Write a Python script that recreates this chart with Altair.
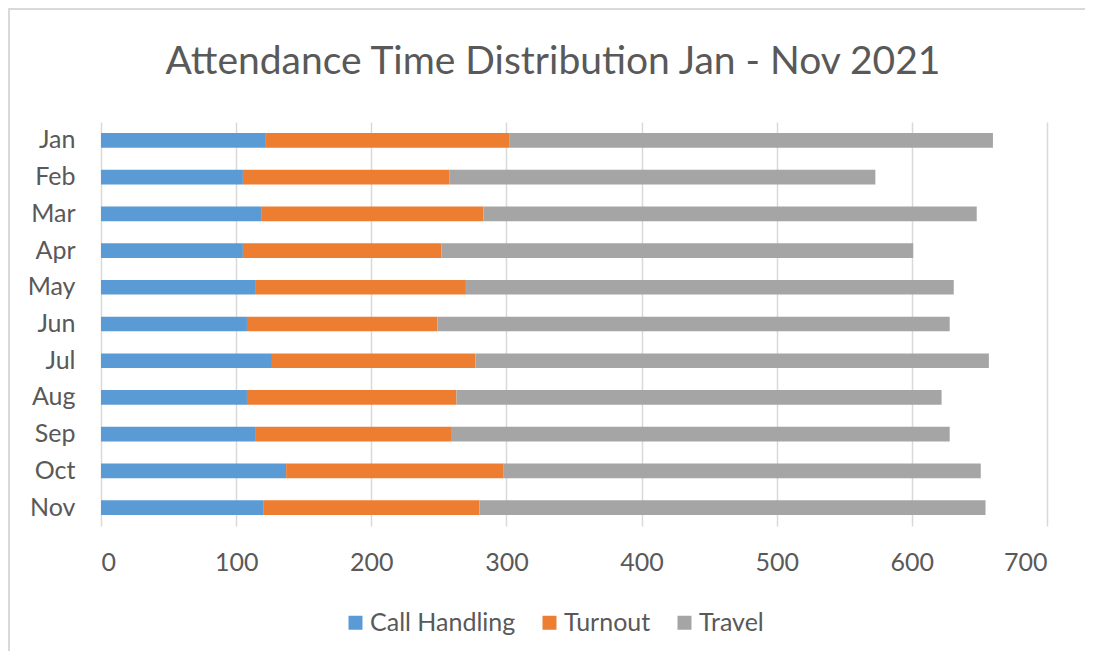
import altair as alt
import pandas as pd

months = ["Jan", "Feb", "Mar", "Apr", "May", "Jun", "Jul", "Aug", "Sep", "Oct", "Nov"]
series = ["Call Handling", "Turnout", "Travel"]
call_handling = [122, 105, 119, 105, 114, 108, 126.5, 108, 114, 137, 120]
turnout = [180, 153, 164, 147, 156, 141, 150.5, 155, 145, 161, 160]
travel = [358, 315, 365, 349, 361, 379, 380, 359, 369, 353, 374.5]
colors = ["#5B9BD5", "#ED7D31", "#A5A5A5"]
x_ticks = [0, 100, 200, 300, 400, 500, 600, 700]

rows = []
for i, m in enumerate(months):
    for k, (s, vals) in enumerate(zip(series, [call_handling, turnout, travel])):
        rows.append({"Month": m, "Series": s, "Value": vals[i], "Order": k})
df = pd.DataFrame(rows)

FONT = "Lato"
TEXT = "#595959"

bars = alt.Chart(df).mark_bar().encode(
    y=alt.Y("Month:N", sort=months, title=None,
            scale=alt.Scale(paddingInner=0.6, paddingOuter=0.3),
            axis=alt.Axis(domain=False, ticks=False, labelPadding=26,
                          labelFontSize=25, labelColor=TEXT, labelFont=FONT, grid=False)),
    x=alt.X("Value:Q", stack="zero", title=None,
            scale=alt.Scale(domain=[0, 700], nice=False),
            axis=alt.Axis(values=x_ticks, domain=False, ticks=False, labelPadding=24,
                          labelFontSize=25, labelColor=TEXT, labelFont=FONT,
                          grid=True, gridColor="#D9D9D9", gridWidth=1.5)),
    color=alt.Color("Series:N", sort=series,
                    scale=alt.Scale(domain=series, range=colors),
                    legend=alt.Legend(title=None, orient="none", direction="horizontal",
                                      legendX=242, legendY=488,
                                      symbolType="square", symbolSize=196,
                                      symbolStrokeWidth=0, labelFontSize=25,
                                      labelColor=TEXT, labelFont=FONT,
                                      labelOffset=2, columnPadding=21)),
    order=alt.Order("Order:Q"),
)

frame_df = pd.DataFrame({"a": [0]})
frame = alt.Chart(frame_df).mark_rect(fill="transparent", stroke="#D9D9D9",
                                     strokeWidth=2, clip=False).encode(
    x=alt.value(-92), x2=alt.value(1100), y=alt.value(-113), y2=alt.value(700)
)

chart = alt.layer(frame, bars).properties(
    width=946, height=404,
    padding={"left": 93, "top": 114, "right": 38, "bottom": 125},
    autosize=alt.AutoSizeParams(type="none"),
    title=alt.TitleParams("Attendance Time Distribution Jan - Nov 2021",
                          fontSize=39, font=FONT, color=TEXT, fontWeight="normal",
                          anchor="middle", dx=-21, offset=0, dy=74),
).configure_view(stroke=None)

chart.save("out.html", embed_options={"renderer": "svg", "actions": False})
